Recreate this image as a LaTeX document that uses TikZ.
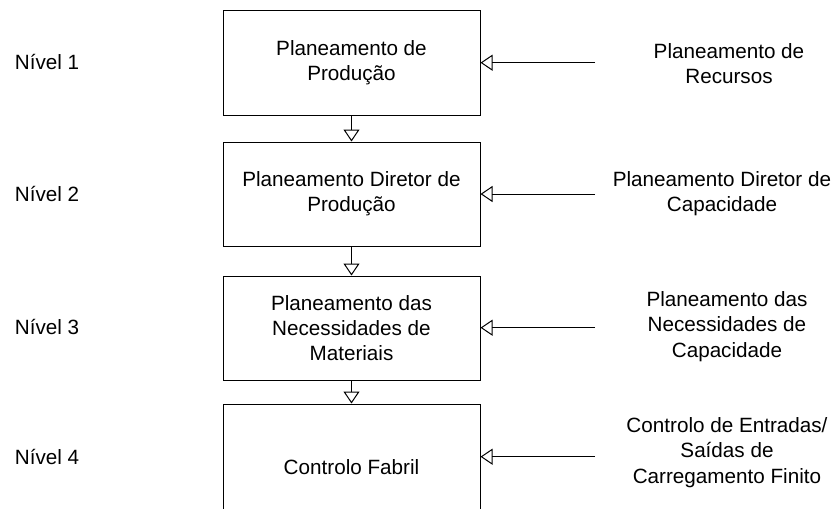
\documentclass[tikz,border=0pt]{standalone}
\usepackage{fontspec}
\setmainfont{Liberation Sans}
\usetikzlibrary{arrows.meta}
\begin{document}
\begin{tikzpicture}[x=0.75pt,y=-0.75pt,
  every node/.style={font=\fontsize{15.5pt}{18.9pt}\selectfont, align=center, inner sep=0pt},
  stage/.style={draw, line width=0.75pt, minimum width=192.75pt},
  link/.style={line width=0.75pt, -{Triangle[open,length=9pt,width=12pt]}}]
\clip (0,0) rectangle (835,508);

% level labels
\node (n1) at (47,62)  {Nível 1};
\node (n2) at (47,194) {Nível 2};
\node (n3) at (47,327) {Nível 3};
\node (n4) at (47,457) {Nível 4};

% planning stages (the last one runs past the lower edge)
\node[stage, minimum height=78.75pt] (b1) at (351.5,62.5) {Planeamento de\\Produção};
\node[stage, minimum height=78pt]    (b2) at (351.5,194)  {Planeamento Diretor de\\Produção};
\node[stage, minimum height=78pt]    (b3) at (351.5,328)  {Planeamento das\\Necessidades de\\Materiais};
\node[stage, minimum height=94.5pt]  (b4) at (351.5,467)  {Controlo Fabril};

% capacity counterparts
\node (r1) at (729,63.5)  {Planeamento de\\Recursos};
\node (r2) at (722,193.5) {Planeamento Diretor de\\Capacidade};
\node (r3) at (727,326.5) {Planeamento das\\Necessidades de\\Capacidade};
\node (r4) at (727,452.5) {Controlo de Entradas/\\Saídas de\\Carregamento Finito};

% start points of the horizontal links
\coordinate (s1) at (595,62.7);
\coordinate (s2) at (595,194);
\coordinate (s3) at (595,327.7);
\coordinate (s4) at (595,456.7);

% flow down the hierarchy
\draw[link] (b1.south) -- (b2.north);
\draw[link] (b2.south) -- (b3.north);
\draw[link] (b3.south) -- (b4.north);

% capacity checks feeding each level
\draw[link] (s1) -- (s1 -| b1.east);
\draw[link] (s2) -- (s2 -| b2.east);
\draw[link] (s3) -- (s3 -| b3.east);
\draw[link] (s4) -- (s4 -| b4.east);
\end{tikzpicture}
\end{document}
